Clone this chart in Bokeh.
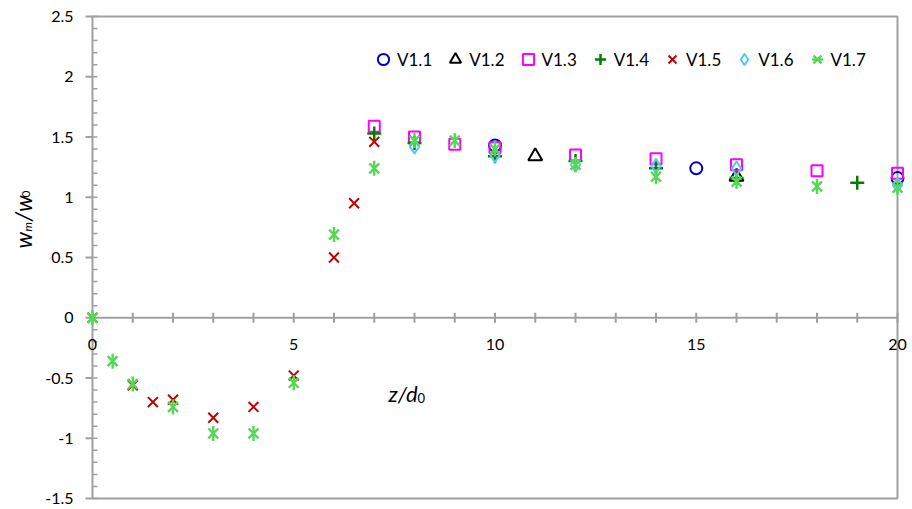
import numpy as np
from bokeh.plotting import figure
from bokeh.models import Range1d, Legend, LegendItem
from bokeh.core.properties import value
from bokeh.embed import file_html
from bokeh.resources import INLINE

# ---------------- data ----------------
v11_x = [10, 15, 20]
v11_y = [1.43, 1.24, 1.16]
v12_x = [11, 16]
v12_y = [1.34, 1.17]
v13_x = [7, 8, 9, 10, 12, 14, 16, 18, 20]
v13_y = [1.59, 1.50, 1.44, 1.41, 1.35, 1.32, 1.27, 1.22, 1.20]
v14_x = [7, 8, 10, 12, 14, 16, 19]
v14_y = [1.53, 1.45, 1.34, 1.30, 1.24, 1.16, 1.12]
v15_x = [0, 1, 1.5, 2, 3, 4, 5, 6, 6.5, 7]
v15_y = [0, -0.56, -0.70, -0.68, -0.83, -0.74, -0.48, 0.50, 0.95, 1.46]
v16_x = [8, 10, 12, 14, 16, 20]
v16_y = [1.42, 1.35, 1.27, 1.26, 1.24, 1.10]
v17_x = [0, 0.5, 1, 2, 3, 4, 5, 6, 7, 8, 9, 10, 12, 14, 16, 18, 20]
v17_y = [0, -0.36, -0.55, -0.74, -0.96, -0.96, -0.54, 0.69, 1.24, 1.47, 1.47, 1.40, 1.27, 1.17, 1.13, 1.09, 1.08]

series_names = ["V1.1", "V1.2", "V1.3", "V1.4", "V1.5", "V1.6", "V1.7"]

x_ticks = [0, 5, 10, 15, 20]
x_tick_labels = ["0", "5", "10", "15", "20"]
x_minor = list(range(1, 21))
y_ticks = [-1.5, -1, -0.5, 0, 0.5, 1, 1.5, 2, 2.5]
y_tick_labels = ["-1.5", "-1", "-0.5", "0", "0.5", "1", "1.5", "2", "2.5"]
y_minor = [round(-1.5 + 0.1 * i, 2) for i in range(41)]

X0, X1 = 0, 20
Y0, Y1 = -1.5, 2.5

# ---------------- layout ----------------
W, H = 912, 509
PAD_L, PAD_R, PAD_T, PAD_B = 92, 15, 16, 11
kx = (W - PAD_L - PAD_R) / (X1 - X0)
ky = (H - PAD_T - PAD_B) / (Y1 - Y0)


def sx(px):
    return X0 + (px - PAD_L) / kx


def sy(py):
    return Y0 + (H - PAD_B - py) / ky


AX = "#a0a0a0"
FONT = value("Lato")

p = figure(width=W, height=H, output_backend="svg", toolbar_location=None,
           x_axis_location=None, y_axis_location=None,
           x_range=Range1d(X0 - PAD_L / kx, X1 + PAD_R / kx),
           y_range=Range1d(Y0 - PAD_B / ky, Y1 + PAD_T / ky),
           min_border=0, outline_line_color=None)
p.grid.visible = False
p.background_fill_color = "white"
p.border_fill_color = "white"

# plot-area box
p.quad(left=[X0], right=[X1], bottom=[Y0], top=[Y1], fill_color=None,
       line_color=AX, line_width=2)
# x axis line at y = 0
p.segment(x0=[X0], x1=[X1], y0=[0], y1=[0], line_color=AX, line_width=2)
# x ticks (crossing)
p.scatter(x=x_minor, y=[0] * len(x_minor), marker="dash", angle=np.pi / 2,
          size=10, line_color=AX, line_width=2)
# y major ticks (outside) and minor ticks (inside)
p.ray(x=[X0] * len(y_ticks), y=y_ticks, length=7, length_units="screen",
      angle=np.pi, line_color=AX, line_width=2)
p.ray(x=[X0] * len(y_minor), y=y_minor, length=5, length_units="screen",
      angle=0, line_color=AX, line_width=1.5)

# tick labels
p.text(x=x_ticks, y=[0] * len(x_ticks), text=x_tick_labels, y_offset=27,
       text_align="center", text_baseline="middle", text_font=FONT,
       text_font_size="16px", text_color="black")
p.text(x=[X0] * len(y_ticks), y=y_ticks, text=y_tick_labels, x_offset=-19,
       text_align="right", text_baseline="middle", text_font=FONT,
       text_font_size="16px", text_color="black")

# axis titles
p.text(x=[sx(388)], y=[sy(393)], text=["z/d"], text_font=FONT, text_font_style="italic",
       text_font_size="22px", text_align="left", text_baseline="alphabetic", text_color="black")
p.text(x=[sx(417)], y=[sy(397)], text=["0"], text_font=FONT,
       text_font_size="13px", text_align="left", text_baseline="alphabetic", text_color="black")

p.text(x=[sx(22)], y=[sy(248)], text=["w"], angle=np.pi / 2, text_font=FONT, text_font_style="italic",
       text_font_size="23px", text_align="left", text_baseline="alphabetic", text_color="black")
p.text(x=[sx(27)], y=[sy(231)], text=["m"], angle=np.pi / 2, text_font=FONT, text_font_style="italic",
       text_font_size="12px", text_align="left", text_baseline="alphabetic", text_color="black")
p.text(x=[sx(22)], y=[sy(221)], text=["/w"], angle=np.pi / 2, text_font=FONT, text_font_style="italic",
       text_font_size="23px", text_align="left", text_baseline="alphabetic", text_color="black")
p.text(x=[sx(25)], y=[sy(197)], text=["0"], angle=np.pi / 2, text_font=FONT,
       text_font_size="12px", text_align="left", text_baseline="alphabetic", text_color="black")

# ---------------- series ----------------
r1 = p.scatter(v11_x, v11_y, marker="circle", size=12, fill_color=None,
               line_color="#0000cc", line_width=2)
r2 = p.scatter(v12_x, v12_y, marker="triangle", size=14, fill_color=None,
               line_color="black", line_width=2)
r3 = p.scatter(v13_x, v13_y, marker="square", size=11, fill_color=None,
               line_color="#ff00ff", line_width=2)
r4 = p.scatter(v14_x, v14_y, marker="cross", size=14, line_color="#008000", line_width=2.5)
r5 = p.scatter(v15_x, v15_y, marker="x", size=14, line_color="#c00000", line_width=2)
r6 = p.scatter(v16_x, v16_y, marker="diamond", size=14, fill_color=None,
               line_color="#55c8f5", line_width=2)
r7a = p.scatter(v17_x, v17_y, marker="x", size=14, line_color="#55d855", line_width=2.4)
r7b = p.scatter(v17_x, v17_y, marker="dash", angle=np.pi / 2, size=15,
                line_color="#55d855", line_width=2.4)

legend = Legend(items=[
    LegendItem(label=series_names[0], renderers=[r1]),
    LegendItem(label=series_names[1], renderers=[r2]),
    LegendItem(label=series_names[2], renderers=[r3]),
    LegendItem(label=series_names[3], renderers=[r4]),
    LegendItem(label=series_names[4], renderers=[r5]),
    LegendItem(label=series_names[5], renderers=[r6]),
    LegendItem(label=series_names[6], renderers=[r7a, r7b]),
], orientation="horizontal", location=(369, H - 73), margin=0, padding=0,
    glyph_width=28, glyph_height=28, label_height=20, label_standoff=0, spacing=9,
    label_text_font="Lato", label_text_font_size="17px", label_text_color="black",
    background_fill_alpha=0, border_line_color=None)
p.add_layout(legend)

open("out.html", "w").write(file_html(p, INLINE))
